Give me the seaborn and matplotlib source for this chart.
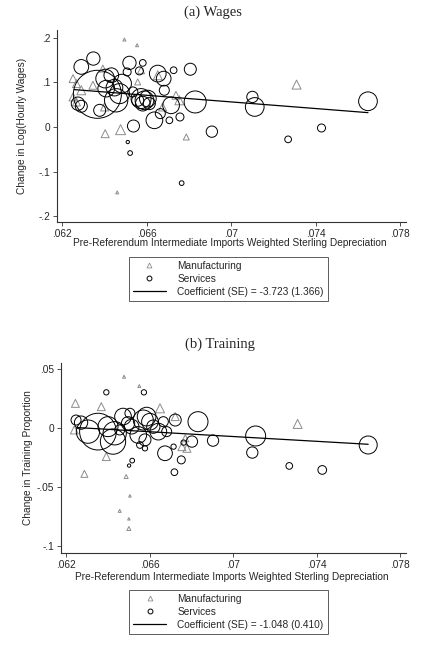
import numpy as np
import pandas as pd
import seaborn as sns
import matplotlib.pyplot as plt
from matplotlib.lines import Line2D

# ---- panel (a) wages: services (circles) ----
wage_srv_x = [0.06291, 0.06348, 0.06367, 0.06275, 0.06291, 0.06378, 0.06404, 0.06433,
              0.06448, 0.06456, 0.06472, 0.06484, 0.06409, 0.06519, 0.06508, 0.06582,
              0.06566, 0.06538, 0.06511, 0.06522, 0.06574, 0.06590, 0.06606, 0.06582,
              0.06558, 0.06653, 0.06681, 0.06637, 0.06665, 0.06684, 0.06708, 0.06728,
              0.06716, 0.06758, 0.06807, 0.06830, 0.06909, 0.06766, 0.07101, 0.07112,
              0.07270, 0.07428, 0.07648, 0.06613, 0.06535]
wage_srv_y = [0.1343, 0.1530, 0.0731, 0.0522, 0.0463, 0.0373, 0.1082, 0.1157,
              0.0881, 0.0597, 0.0746, 0.0970, 0.0858, 0.1433, 0.1231, 0.1433,
              0.1254, 0.0022, -0.0336, -0.0582, 0.0635, 0.0597, 0.0635, 0.0522,
              0.0597, 0.1194, 0.1082, 0.0150, 0.0299, 0.0821, 0.0150, 0.1269,
              0.0485, 0.0224, 0.1291, 0.0560, -0.0104, -0.1254, 0.0672, 0.0448,
              -0.0276, -0.0022, 0.0575, 0.0522, 0.0784]
wage_srv_w = [14.7, 13.3, 48, 13.3, 12, 12, 18.7, 14.7,
              16.7, 23.3, 20, 18.7, 16.7, 13.3, 8, 6.7,
              8, 12, 3.3, 4.7, 20, 18.7, 16.7, 14.7,
              12, 16.7, 14.7, 16.7, 10, 10, 6.7, 6.7,
              16.7, 8, 12, 22, 11.3, 4.7, 11.3, 18.7,
              6.7, 8, 18.7, 12, 10]

# ---- panel (a) wages: manufacturing (triangles) ----
wage_mfg_x = [0.06495, 0.06555, 0.06461, 0.06404, 0.06477, 0.06788, 0.07310, 0.06252,
              0.06268, 0.06291, 0.06252, 0.06268, 0.06346, 0.06393, 0.06401, 0.06558,
              0.06574, 0.06653, 0.06676, 0.06739, 0.06755]
wage_mfg_y = [0.1955, 0.1828, -0.1462, -0.0149, -0.0059, -0.0223, 0.0948, 0.1082,
              0.0970, 0.0821, 0.0672, 0.0560, 0.0933, 0.1306, 0.0448, 0.1008,
              0.1269, 0.1157, 0.0448, 0.0709, 0.0597]
wage_mfg_w = [3, 3, 3, 8, 10, 6, 9, 8,
              8, 9, 8, 8, 8, 7, 8, 6,
              7, 9, 8, 8, 9]

wage_fit_x = [0.06257, 0.07648]
wage_fit_y = [0.0836, 0.0321]

# ---- panel (b) training: services ----
train_srv_x = [0.06393, 0.06573, 0.06272, 0.06248, 0.06353, 0.06305, 0.06401, 0.06425,
               0.06433, 0.06473, 0.06497, 0.06506, 0.06514, 0.06546, 0.06570, 0.06586,
               0.06602, 0.06618, 0.06578, 0.06554, 0.06578, 0.06642, 0.06666, 0.06682,
               0.06723, 0.06674, 0.06715, 0.06752, 0.06719, 0.06832, 0.06803, 0.06763,
               0.06904, 0.07108, 0.07092, 0.07269, 0.07427, 0.07647, 0.06502, 0.06517,
               0.06457]
train_srv_y = [0.0303, 0.0303, 0.0047, 0.0069, -0.0029, -0.0029, 0.0013, -0.0113,
               -0.0043, 0.0098, 0.0041, 0.0126, 0.0013, -0.0057, 0.0069, 0.0098,
               0.0055, 0.0013, -0.0099, -0.0142, -0.0170, -0.0029, 0.0055, -0.0029,
               0.0069, -0.0212, -0.0156, -0.0268, -0.0372, 0.0055, -0.0113, -0.0122,
               -0.0105, -0.0066, -0.0206, -0.0319, -0.0353, -0.0142, -0.0316, -0.0274,
               -0.0015]
train_srv_w = [5.3, 5.3, 13.3, 10, 36.7, 23.3, 20, 25.3,
               23.3, 16.7, 13.3, 10, 14.7, 16.7, 20, 18.7,
               16.7, 13.3, 12, 6.7, 5.3, 16.7, 10, 10,
               12, 14.7, 5.3, 8, 6.7, 20, 11.3, 5.3,
               11.3, 20, 11.3, 6.7, 8.7, 18, 3.3, 4.7,
               10]

# ---- panel (b) training: manufacturing ----
train_mfg_x = [0.06245, 0.06288, 0.06478, 0.06551, 0.06488, 0.06506, 0.06457, 0.06501,
               0.06501, 0.07309, 0.06369, 0.06393, 0.06650, 0.06723, 0.06755, 0.06779,
               0.06240, 0.06771]
train_mfg_y = [0.0210, -0.0386, 0.0435, 0.0356, -0.0409, -0.0572, -0.0699, -0.0766,
               -0.0848, 0.0036, 0.0182, -0.0240, 0.0168, 0.0098, -0.0156, -0.0170,
               -0.0015, -0.0085]
train_mfg_w = [8, 7, 3, 3, 4, 2.5, 3, 2.5,
               4, 9, 8, 8, 9, 8, 8, 8,
               8, 7]

train_fit_x = [0.06256, 0.07647]
train_fit_y = [0.0005, -0.0136]

x_ticks = [0.062, 0.066, 0.070, 0.074, 0.078]
x_ticklabels = [".062", ".066", ".07", ".074", ".078"]
wage_yticks = [0.2, 0.1, 0.0, -0.1, -0.2]
wage_yticklabels = [".2", ".1", "0", "-.1", "-.2"]
train_yticks = [0.05, 0.0, -0.05, -0.1]
train_yticklabels = [".05", "0", "-.05", "-.1"]

xlab = "Pre-Referendum Intermediate Imports Weighted Sterling Depreciation"

sns.set_style("white")
plt.rcParams['font.family'] = ['Liberation Sans', 'DejaVu Sans']

fig = plt.figure(figsize=(4.38, 6.49), dpi=100)
ax1 = fig.add_axes([57 / 438, 1 - 222 / 649, 349 / 438, 192 / 649])
ax2 = fig.add_axes([61 / 438, 1 - 553 / 649, 345 / 438, 190 / 649])

gray = "#8c8c8c"


def area(w):
    # marker diameter (px) -> scatter area (pt^2)
    return (0.72 * np.asarray(w)) ** 2


def panel(ax, sx, sy, sw, mx, my, mw, fx, fy, yticks, ylabels, ylim, ylab, ylab_x, xlab_y):
    srv = pd.DataFrame({"x": sx, "y": sy, "w": sw})
    mfg = pd.DataFrame({"x": mx, "y": my, "w": mw})
    sns.scatterplot(data=mfg, x="x", y="y", marker="^", s=area(mfg["w"]),
                    color=gray, facecolor="none", edgecolor=gray,
                    linewidth=0.7, ax=ax, legend=False)
    sns.scatterplot(data=srv, x="x", y="y", marker="o", s=area(srv["w"]),
                    color="black", facecolor="none", edgecolor="black",
                    linewidth=0.7, ax=ax, legend=False)
    sns.lineplot(x=fx, y=fy, color="black", linewidth=0.9, ax=ax)
    ax.set_xlim(0.06176, 0.07828)
    ax.set_ylim(*ylim)
    ax.set_xticks(x_ticks)
    ax.set_xticklabels(x_ticklabels)
    ax.set_yticks(yticks)
    ax.set_yticklabels(ylabels)
    ax.tick_params(direction="out", length=3, width=0.6, color="#333333",
                   labelsize=7.3, pad=2, left=True, bottom=True)
    for s in ["top", "right"]:
        ax.spines[s].set_visible(False)
    for s in ["left", "bottom"]:
        ax.spines[s].set_color("#333333")
        ax.spines[s].set_linewidth(0.8)
    ax.set_ylabel(ylab, fontsize=7.3)
    ax.set_xlabel(xlab, fontsize=7.3)
    ax.yaxis.set_label_coords(ylab_x, 0.5)
    ax.xaxis.set_label_coords(0.496, xlab_y)


panel(ax1, wage_srv_x, wage_srv_y, wage_srv_w, wage_mfg_x, wage_mfg_y, wage_mfg_w,
      wage_fit_x, wage_fit_y, wage_yticks, wage_yticklabels, (-0.2123, 0.2168),
      "Change in Log(Hourly Wages)", -0.086, -0.085)
panel(ax2, train_srv_x, train_srv_y, train_srv_w, train_mfg_x, train_mfg_y, train_mfg_w,
      train_fit_x, train_fit_y, train_yticks, train_yticklabels, (-0.1055, 0.0551),
      "Change in Training Proportion", -0.081, -0.100)

fig.text(213 / 438, 1 - 12 / 649, "(a) Wages", ha="center", va="center",
         fontsize=10.5, family=["Liberation Serif", "DejaVu Serif"])
fig.text(220 / 438, 1 - 344 / 649, "(b) Training", ha="center", va="center",
         fontsize=10.5, family=["Liberation Serif", "DejaVu Serif"])


def legend(coef_label, cy):
    handles = [
        Line2D([], [], marker="^", linestyle="none", markersize=3.5,
               markerfacecolor="none", markeredgecolor=gray, markeredgewidth=0.6),
        Line2D([], [], marker="o", linestyle="none", markersize=3.5,
               markerfacecolor="none", markeredgecolor="black", markeredgewidth=0.7),
        Line2D([], [], color="black", linewidth=0.9),
    ]
    leg = fig.legend(handles, ["Manufacturing", "Services", coef_label],
                     loc="center", bbox_to_anchor=(0.521, cy), fontsize=7.3,
                     frameon=True, fancybox=False, handlelength=3.3,
                     handletextpad=1.1, labelspacing=0.3, borderpad=0.4)
    leg.get_frame().set_edgecolor("#333333")
    leg.get_frame().set_linewidth(0.7)


legend("Coefficient (SE) = -3.723 (1.366)", 1 - 279 / 649)
legend("Coefficient (SE) = -1.048 (0.410)", 1 - 612 / 649)

fig.savefig("out.png", dpi=100)
